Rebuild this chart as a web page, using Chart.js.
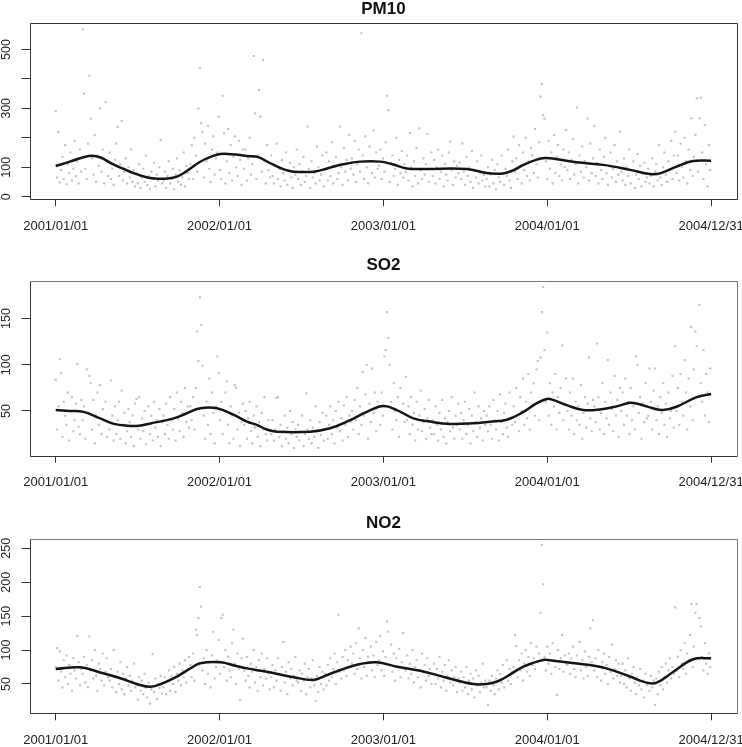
<!DOCTYPE html>
<html><head><meta charset="utf-8">
<script src="https://cdn.jsdelivr.net/npm/chart.js@4.4.1/dist/chart.umd.min.js"></script>
<style>
html,body{margin:0;padding:0;background:#fff;}
#wrap{position:relative;width:742px;height:747px;overflow:hidden;background:#fff;}
canvas{position:absolute;left:0;}
</style></head><body>
<div id="wrap">
<canvas id="c1" width="742" height="249" style="top:0px;width:742px;height:249px"></canvas>
<canvas id="c2" width="742" height="250" style="top:250px;width:742px;height:250px"></canvas>
<canvas id="c3" width="742" height="247" style="top:500px;width:742px;height:247px"></canvas>
</div>
<script>
// ---------- DATA ----------
const sampleStepDays = 3; // one plotted observation every 3 days from 2001/01/01
const xTickDays = [0, 365, 730, 1095, 1460];
const xTickLabels = ['2001/01/01', '2002/01/01', '2003/01/01', '2004/01/01', '2004/12/31'];

const pm10Ticks = [0, 100, 200, 300, 400, 500];
const pm10TickLabels = ['0', '100', '', '300', '', '500'];
const so2Ticks = [50, 100, 150];
const so2TickLabels = ['50', '100', '150'];
const no2Ticks = [50, 100, 150, 200, 250];
const no2TickLabels = ['50', '100', '150', '200', '250'];

const pm10Values = [
291,65,220,48,90,135,60,175,42,110,80,150,55,95,190,70,120,45,160,85,
568,350,95,60,180,411,265,130,75,210,50,140,105,300,85,160,45,321,120,70,
150,60,95,40,125,180,237,70,110,257,55,85,130,45,100,65,160,50,90,35,
80,45,110,30,65,95,50,140,40,70,25,85,60,115,35,75,55,100,192,45,
55,85,30,70,120,45,60,95,25,75,130,50,90,40,65,150,35,105,80,60,
110,175,60,200,140,85,299,438,250,220,65,180,120,240,95,50,160,205,75,130,
150,272,90,60,343,215,45,120,230,80,175,55,135,205,100,70,190,125,40,160,
95,160,55,130,200,75,110,478,283,60,140,362,272,85,464,120,45,175,90,65,
140,70,45,105,180,60,95,35,125,80,55,150,40,90,115,65,30,100,75,160,
60,110,40,85,135,50,70,238,95,30,120,65,80,45,170,100,55,75,140,35,
90,150,55,120,70,185,45,105,135,60,80,238,100,40,165,85,125,55,210,95,
130,75,190,50,110,160,85,555,140,60,205,100,45,170,120,80,225,65,150,95,
105,160,60,130,85,185,343,294,50,115,140,70,95,200,40,125,80,155,65,110,
85,140,55,216,100,35,120,70,165,45,232,90,60,130,75,110,213,50,95,150,
70,125,45,100,160,60,85,140,35,110,75,55,150,187,90,40,120,65,105,80,
115,60,181,85,40,135,70,100,50,155,30,90,65,120,45,80,140,55,75,35,
60,100,35,75,125,45,90,25,110,65,50,140,80,40,95,70,160,55,30,120,
204,85,130,60,175,105,45,150,90,200,70,120,55,165,140,80,230,110,65,185,
340,383,277,265,120,60,190,95,150,45,210,80,135,175,70,110,55,160,100,226,
90,150,60,125,195,75,110,303,45,140,85,170,65,120,100,265,55,180,80,130,
240,70,115,45,160,90,60,135,200,80,40,105,150,65,95,175,50,120,75,221,
85,55,130,40,100,70,160,45,90,120,30,75,145,60,105,35,80,115,50,65,
95,45,70,130,35,85,110,55,175,65,40,100,150,75,50,120,90,190,60,140,
221,80,140,55,180,100,65,200,120,45,160,90,266,70,135,210,334,85,266,336,
150,60,243,110,35,175,90
];
const pm10SmoothDays = [0,30,60,80,100,125,150,175,200,220,250,270,290,320,345,367,400,426,450,480,510,530,575,610,640,678,723,750,782,819,916,960,997,1020,1042,1070,1090,1110,1160,1220,1280,1324,1346,1383,1420,1460];
const pm10Smooth = [104,118,133,139,133,112,95,79,67,62,62,68,85,117,135,145,143,138,135,112,92,85,85,98,110,119,119,110,96,94,94,80,79,90,108,125,131,129,117,108,91,77,79,102,121,122];

const so2Values = [
84,30,55,106,91,22,60,45,35,70,18,50,65,28,40,58,101,33,25,62,
40,55,20,95,48,88,80,30,62,15,45,70,35,78,25,52,40,60,22,38,
30,83,45,18,55,25,40,60,20,72,35,48,15,28,52,38,22,45,12,58,
63,30,65,20,42,28,50,14,35,55,25,45,18,60,32,40,22,52,12,38,
45,25,58,35,20,65,40,30,52,18,70,42,28,60,48,22,75,38,55,32,
55,40,65,30,75,136,104,173,143,99,45,20,60,35,85,25,70,48,15,55,
109,91,40,60,25,50,70,82,35,15,55,45,20,78,75,30,48,12,38,58,
35,50,20,42,60,28,15,45,32,55,22,38,12,48,30,65,25,18,40,28,
25,40,18,30,64,65,22,35,12,28,45,20,32,15,50,25,38,10,30,22,
35,18,28,45,12,25,69,30,20,40,15,32,22,55,28,10,38,24,48,18,
30,45,20,35,55,25,40,15,50,32,60,28,42,18,56,35,65,22,45,38,
50,30,62,40,75,25,55,35,92,45,68,100,20,58,38,96,48,70,28,60,
55,35,70,45,109,116,157,129,100,60,30,80,50,40,65,22,75,48,58,38,
87,40,55,25,65,35,48,18,60,30,45,72,28,38,52,20,42,62,32,25,
40,25,55,35,18,48,30,62,22,42,15,38,50,28,65,32,20,45,35,58,
30,48,20,40,60,25,35,52,15,45,28,70,38,22,55,32,42,18,50,35,
45,28,55,35,20,62,40,30,50,18,68,38,25,48,58,32,22,70,42,35,
55,38,75,45,28,65,50,85,35,60,42,90,30,70,55,80,45,95,104,40,
108,157,184,116,60,135,45,80,35,70,55,90,30,65,48,75,121,40,58,85,
50,30,70,45,85,25,60,40,55,35,78,20,48,65,32,58,108,42,28,62,
55,38,123,65,30,48,80,25,60,42,105,35,70,52,28,88,45,62,22,75,
50,70,35,85,45,60,25,75,40,55,30,109,100,48,65,20,58,38,80,42,
45,96,60,30,72,96,40,55,25,65,48,80,35,58,22,70,42,50,88,32,
120,50,75,35,90,60,45,105,70,30,85,55,141,40,95,136,120,65,165,80,
60,116,45,90,70,38,96
];
const so2SmoothDays = [0,30,62,99,130,160,185,211,263,292,322,359,396,426,448,470,493,567,611,656,693,730,760,797,834,878,930,967,1005,1042,1070,1094,1108,1140,1175,1212,1250,1279,1294,1330,1353,1383,1428,1460];
const so2Smooth = [51,50,49,42,36,34,34,36.5,42,47.5,53,53,46,38.5,35,30,27.6,27.6,31.3,40,49,55.4,51,42,38.5,36,36.7,38.4,40.5,49,58,63,62,56,51,51.6,55,58.9,58,53,51,54.6,65,68.4];

const no2Values = [
75,103,55,98,68,45,85,60,92,50,78,65,40,88,70,58,121,82,48,72,
65,90,52,78,45,120,70,85,58,100,62,40,80,72,55,95,48,68,88,60,
55,72,45,100,60,38,68,50,82,42,65,35,58,75,48,62,40,55,80,45,
48,27,60,40,55,35,65,45,30,52,21,42,94,38,58,28,50,44,62,36,
45,60,35,55,70,40,62,50,75,38,65,55,80,48,70,60,85,52,72,90,
78,60,95,55,130,122,147,193,164,70,88,50,100,65,82,45,92,127,58,75,
85,115,65,147,152,75,100,55,90,70,60,110,130,80,50,95,72,26,88,117,
70,55,90,62,45,80,68,100,52,75,40,85,60,95,48,72,58,88,65,42,
60,78,45,70,55,88,65,40,75,112,52,68,35,82,58,72,48,62,90,55,
52,70,40,65,55,80,35,60,72,45,58,85,48,25,62,38,75,50,68,42,
65,48,78,55,88,60,72,95,50,82,152,68,58,90,70,100,62,85,75,105,
80,95,65,110,72,132,88,58,100,75,118,62,90,82,105,70,92,60,112,78,
85,121,70,98,62,90,142,127,78,108,68,95,55,88,75,102,60,82,125,72,
70,92,58,80,65,100,52,75,85,60,70,45,95,68,78,55,88,62,72,50,
65,80,50,72,58,90,45,68,55,78,40,62,85,52,70,48,60,75,38,58,
52,68,40,60,45,75,35,55,65,42,58,30,70,48,62,38,52,80,45,55,
45,19,55,40,62,48,35,58,70,42,65,52,78,45,60,85,55,72,50,68,
75,122,106,60,85,70,95,55,80,100,68,90,62,110,78,88,72,105,82,95,
155,255,197,90,70,105,80,95,65,110,85,75,34,100,72,88,122,68,92,80,
78,95,65,88,105,72,60,92,80,112,70,85,58,98,75,62,90,132,82,144,
70,88,60,100,75,55,82,95,65,78,50,90,68,108,58,72,85,62,80,52,
62,80,50,70,45,88,58,40,65,75,52,35,60,48,72,42,55,30,65,48,
50,40,62,45,55,19,58,35,68,48,75,42,60,80,52,70,88,58,75,65,
163,70,90,60,100,80,72,110,65,95,85,122,168,75,105,155,168,88,147,135,
90,70,110,80,65,95,75
];
const no2SmoothDays = [0,55,99,144,188,211,233,270,300,322,367,400,426,470,530,574,600,634,678,715,760,812,871,930,960,985,1005,1042,1086,1108,1150,1190,1227,1279,1316,1339,1376,1420,1460];
const no2Smooth = [72,74.6,67,58.4,48.5,46,49.6,61,73,80.5,82,77,73,68,60,56,62,70.6,79.5,82,75.5,69.6,59.3,50,50,54,61,75.5,85.4,84.4,81,78,73,61,52,52,68,86.4,88];

// ---------- RENDERING ----------
const FONT = '"Liberation Sans", Arial, Helvetica, sans-serif';
Chart.defaults.font.family = FONT;

const rBox = {
  id: 'rBox',
  afterDraw(chart, args, opts) {
    const {ctx, chartArea: a} = chart;
    const L = Math.round(a.left) + 0.5, R = Math.round(a.right) + 0.5;
    const T = Math.round(a.top) + 0.5, B = Math.round(a.bottom) + 0.5;
    ctx.save();
    ctx.lineWidth = 1;
    ctx.strokeStyle = opts.dark;
    ctx.beginPath(); ctx.moveTo(L, T); ctx.lineTo(L, B); ctx.lineTo(R, B); ctx.stroke();
    ctx.strokeStyle = opts.light;
    ctx.beginPath(); ctx.moveTo(L, T); ctx.lineTo(R, T); ctx.lineTo(R, B); ctx.stroke();
    // rotated y-axis labels (R style)
    const ys = chart.scales.y;
    ctx.fillStyle = '#222';
    ctx.font = '12.5px ' + FONT;
    ctx.textAlign = 'center';
    ctx.textBaseline = 'middle';
    opts.tickValues.forEach((v, i) => {
      const lab = opts.tickLabels[i];
      if (!lab) return;
      const y = ys.getPixelForValue(v);
      ctx.save();
      ctx.translate(opts.labelX, y);
      ctx.rotate(-Math.PI / 2);
      ctx.fillText(lab, 0, 0);
      ctx.restore();
    });
    ctx.restore();
  }
};

function makePanel(id, title, values, sDays, sVals, yMin, yMax, yTicks, yLabels, g) {
  const pts = values.map((v, i) => ({x: i * sampleStepDays, y: v}));
  const smooth = sDays.map((d, i) => ({x: d, y: sVals[i]}));
  return new Chart(document.getElementById(id), {
    type: 'scatter',
    data: {
      datasets: [
        {
          label: title + ' smooth',
          data: smooth,
          showLine: true,
          borderColor: '#151515',
          borderWidth: 2.5,
          pointRadius: 0,
          tension: 0.4,
          fill: false
        },
        {
          label: title,
          data: pts,
          pointStyle: 'rect',
          pointRadius: 1.5,
          pointBorderWidth: 0,
          backgroundColor: '#c2c2c2',
          borderColor: '#c2c2c2'
        }
      ]
    },
    options: {
      responsive: false,
      animation: false,
      devicePixelRatio: 1,
      layout: {padding: {left: 0, right: g.right, top: 0, bottom: 0}},
      plugins: {
        legend: {display: false},
        tooltip: {enabled: false},
        title: {
          display: true,
          text: title,
          fullSize: false,
          color: '#111',
          font: {size: 17, weight: 'bold', lineHeight: 1},
          padding: {top: g.titleTop, bottom: g.boxTop - g.titleTop - 17}
        },
        rBox: {dark: '#333', light: g.light, tickValues: yTicks, tickLabels: yLabels, labelX: 7}
      },
      scales: {
        x: {
          type: 'linear',
          min: -58.4,
          max: 1518.4,
          border: {display: false},
          grid: {display: true, drawOnChartArea: false, drawTicks: true, tickLength: 7, color: '#333'},
          ticks: {
            autoSkip: false, maxRotation: 0, minRotation: 0, padding: 12,
            color: '#222', font: {size: 13},
            callback: (v) => { const k = xTickDays.indexOf(v); return k >= 0 ? xTickLabels[k] : ''; }
          },
          afterBuildTicks: (s) => { s.ticks = xTickDays.map(v => ({value: v})); },
          afterFit: (s) => { s.height = g.H - g.boxBottom; s.paddingLeft = 0; s.paddingRight = 0; }
        },
        y: {
          type: 'linear',
          min: yMin,
          max: yMax,
          border: {display: false},
          grid: {display: true, drawOnChartArea: false, drawTicks: true, tickLength: 8, color: '#333'},
          ticks: {display: false},
          afterBuildTicks: (s) => { s.ticks = yTicks.map(v => ({value: v})); },
          afterFit: (s) => { s.width = 29.5; s.paddingTop = 0; s.paddingBottom = 0; }
        }
      }
    },
    plugins: [rBox]
  });
}

makePanel('c1', 'PM10', pm10Values, pm10SmoothDays, pm10Smooth, -9, 589, pm10Ticks, pm10TickLabels,
  {H: 249, titleTop: 0.5, boxTop: 23.3, boxBottom: 199.3, right: 4.7, light: '#333'});
makePanel('c2', 'SO2', so2Values, so2SmoothDays, so2Smooth, 1.6, 191, so2Ticks, so2TickLabels,
  {H: 250, titleTop: 6.5, boxTop: 30.7, boxBottom: 205.7, right: 4.7, light: '#777'});
makePanel('c3', 'NO2', no2Values, no2SmoothDays, no2Smooth, 6.8, 263.7, no2Ticks, no2TickLabels,
  {H: 247, titleTop: 14.5, boxTop: 39, boxBottom: 213.3, right: 4.7, light: '#777'});
</script>
</body></html>
